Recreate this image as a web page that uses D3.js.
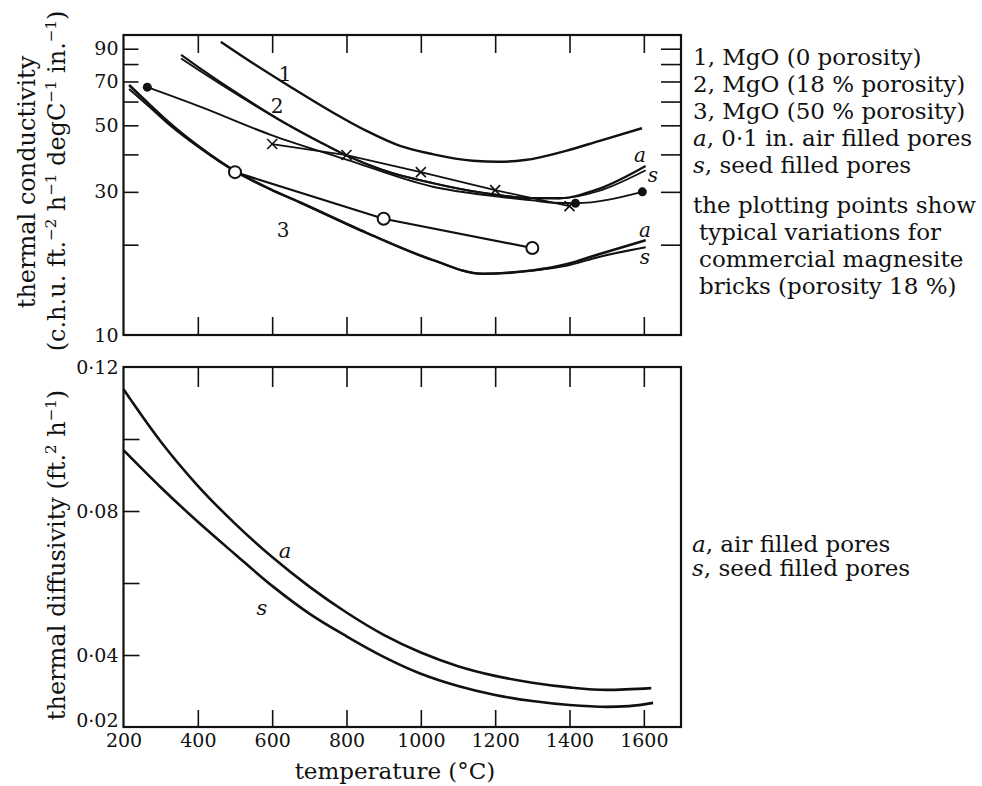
<!DOCTYPE html>
<html>
<head>
<meta charset="utf-8">
<script src="https://cdn.jsdelivr.net/npm/d3@7"></script>
<style>
  body { margin: 0; background: #fff; }
  svg { display: block; font-family: "DejaVu Serif", "Liberation Serif", serif; }
  .tick line { stroke: #111; stroke-width: 1.6; }
</style>
</head>
<body>
<svg id="chart" width="982" height="786"></svg>
<script>
// ---- data ----
// upper panel: thermal conductivity vs temperature
const mgo0Temp = [462, 540, 655, 762, 854, 942, 1031, 1140, 1210, 1280, 1390, 1479, 1595];
const mgo0Cond = [94.9, 81.8, 66.5, 55.3, 47.9, 42.8, 40.1, 38.1, 37.8, 38.3, 41.1, 44.3, 48.9];

const mgo18Temp  = [355, 405, 513, 620, 728, 803, 897, 1031, 1165, 1299, 1372, 1479, 1605];
const mgo18Air   = [85.8, 77.6, 63.1, 52.1, 44.0, 39.5, 35.5, 32.1, 29.8, 28.6, 28.6, 30.7, 36.6];
const mgo18Seed  = [83.5, 76.0, 62.5, 52.1, 44.0, 39.5, 35.5, 32.1, 29.8, 28.6, 28.5, 30.2, 35.4];

const mgo50Temp  = [215, 271, 324, 405, 505, 593, 674, 854, 1031, 1165, 1299, 1391, 1479, 1605];
const mgo50Air   = [68.1, 58.5, 50.9, 42.3, 34.9, 30.7, 27.7, 21.9, 17.8, 16.0, 16.4, 17.2, 18.6, 20.7];
const mgo50Seed  = [66.1, 57.4, 50.1, 42.0, 34.9, 30.7, 27.7, 21.9, 17.8, 16.0, 16.4, 17.0, 18.2, 19.6];

// commercial magnesite bricks
const dotTemp   = [264, 406, 598, 804, 1032, 1200, 1300, 1354, 1416, 1596];
const dotCond   = [67, 57.7, 46.4, 38.3, 31.2, 29.0, 28.1, 27.6, 27.5, 30.0];
const dotMarks  = [0, 8, 9];   // points of the dot series that carry a filled dot
const crossTemp = [600, 800, 1000, 1200, 1400];
const crossCond = [43.3, 39.8, 34.9, 30.4, 26.9];
const ringTemp  = [500, 900, 1300];
const ringCond  = [34.9, 24.4, 19.5];

// lower panel: thermal diffusivity vs temperature
const airTemp  = [200, 300, 400, 500, 600, 700, 800, 900, 1000, 1100, 1200, 1300, 1400, 1500, 1620];
const airDiff  = [0.1138, 0.0993, 0.0870, 0.0765, 0.0672, 0.0590, 0.0518, 0.0456, 0.0407, 0.0369, 0.0342, 0.0323, 0.0310, 0.0303, 0.0308];
const seedTemp = [200, 300, 400, 500, 600, 700, 800, 900, 1000, 1100, 1200, 1300, 1400, 1500, 1560, 1625];
const seedDiff = [0.0969, 0.0866, 0.0770, 0.0680, 0.0592, 0.0515, 0.0452, 0.0395, 0.0348, 0.0314, 0.0289, 0.0272, 0.0261, 0.0256, 0.0258, 0.0267];

const tempTicks = [200, 400, 600, 800, 1000, 1200, 1400, 1600];
const condTicks = [20, 30, 40, 50, 60, 70, 80, 90];
const condLabels = [10, 30, 50, 70, 90];
const diffTicks = [0.04, 0.06, 0.08, 0.10];
const diffLabels = [0.02, 0.04, 0.08, 0.12];

const legendTop = ['1, MgO (0 porosity)', '2, MgO (18 % porosity)', '3, MgO (50 % porosity)'];
const noteLines = ['the plotting points show', 'typical variations for', 'commercial magnesite', 'bricks (porosity 18 %)'];

// ---- layout ----
const svg = d3.select('#chart');
const left = 123.5, right = 681;
const top1 = 35, bot1 = 335, top2 = 367, bot2 = 727;

const x = d3.scaleLinear().domain([200, 1700]).range([left, right]);
const yCond = d3.scaleLog().domain([10, 100]).range([bot1, top1]);
const yDiff = d3.scaleLinear().domain([0.02, 0.12]).range([bot2, top2]);
const diffFmt = d => d3.format('.2f')(d).replace('.', '·');

function zip(a, b) { return a.map((v, i) => [v, b[i]]); }

// inward ticks; labels come from separate zero-length axes
function ticksOnly(axis, tr) {
    const g = svg.append('g').attr('transform', tr).call(axis);
    g.select('.domain').remove();
    g.selectAll('text').remove();
    return g;
}
function labelsOnly(axis, tr) {
    const g = svg.append('g').attr('transform', tr).call(axis);
    g.attr('font-size', 19).attr('font-family', '"DejaVu Serif", serif');
    g.selectAll('text').attr('fill', '#111');
    g.select('.domain').remove();
    g.selectAll('line').remove();
    return g;
}

const innerTicks = tempTicks.filter(t => t > 200);
ticksOnly(d3.axisTop(x).tickValues(innerTicks).tickSize(-18), `translate(0,${top1})`);
ticksOnly(d3.axisBottom(x).tickValues(innerTicks).tickSize(-18), `translate(0,${bot1})`);
ticksOnly(d3.axisLeft(yCond).tickValues(condTicks).tickSize(-15), `translate(${left},0)`);
ticksOnly(d3.axisRight(yCond).tickValues(condTicks).tickSize(-20), `translate(${right},0)`);
labelsOnly(d3.axisLeft(yCond).tickValues(condLabels).tickSize(0).tickPadding(5).tickFormat(d3.format('d')), `translate(${left},0)`);

ticksOnly(d3.axisTop(x).tickValues(innerTicks).tickSize(-20), `translate(0,${top2})`);
ticksOnly(d3.axisBottom(x).tickValues(innerTicks).tickSize(-17), `translate(0,${bot2})`);
ticksOnly(d3.axisLeft(yDiff).tickValues(diffTicks).tickSize(-16), `translate(${left},0)`);
const diffAxis = labelsOnly(d3.axisLeft(yDiff).tickValues(diffLabels).tickSize(0).tickPadding(5).tickFormat(diffFmt), `translate(${left},0)`);
// lowest label sits a little above the corner, clear of the 200
diffAxis.selectAll('.tick').filter(d => d === 0.02).select('text').attr('dy', '-0.05em');
labelsOnly(d3.axisBottom(x).tickValues(tempTicks).tickSize(0).tickPadding(7).tickFormat(d3.format('d')), `translate(0,${bot2})`);

// frames
[[top1, bot1], [top2, bot2]].forEach(([t, b]) => {
    svg.append('rect').attr('x', left).attr('y', t).attr('width', right - left).attr('height', b - t)
        .attr('fill', 'none').attr('stroke', '#111').attr('stroke-width', 2.2);
});

// ---- curves ----
const smooth = ys => d3.line().curve(d3.curveMonotoneX).x(d => x(d[0])).y(d => ys(d[1]));
const straight = ys => d3.line().x(d => x(d[0])).y(d => ys(d[1]));

function path(data, gen, w) {
    svg.append('path').datum(data).attr('d', gen).attr('fill', 'none')
        .attr('stroke', '#111').attr('stroke-width', w).attr('stroke-linejoin', 'round');
}

path(zip(mgo0Temp, mgo0Cond), smooth(yCond), 2.4);
path(zip(mgo18Temp, mgo18Air), smooth(yCond), 2.2);
path(zip(mgo18Temp, mgo18Seed), smooth(yCond), 1.8);
path(zip(mgo50Temp, mgo50Air), smooth(yCond), 2.6);
path(zip(mgo50Temp, mgo50Seed), smooth(yCond), 2.0);
path(zip(dotTemp, dotCond), smooth(yCond), 1.9);
path(zip(crossTemp, crossCond), straight(yCond), 1.8);
path(zip(ringTemp, ringCond), straight(yCond), 2.2);

path(zip(airTemp, airDiff), smooth(yDiff), 2.6);
path(zip(seedTemp, seedDiff), smooth(yDiff), 2.6);

// markers
svg.append('g').selectAll('circle').data(dotMarks.map(i => [dotTemp[i], dotCond[i]])).join('circle')
    .attr('cx', d => x(d[0])).attr('cy', d => yCond(d[1])).attr('r', 4.5).attr('fill', '#111');
svg.append('g').selectAll('circle').data(zip(ringTemp, ringCond)).join('circle')
    .attr('cx', d => x(d[0])).attr('cy', d => yCond(d[1])).attr('r', 6)
    .attr('fill', '#fff').attr('stroke', '#111').attr('stroke-width', 2);
svg.append('g').selectAll('path').data(zip(crossTemp, crossCond)).join('path')
    .attr('d', d => { const cx = x(d[0]), cy = yCond(d[1]), s = 5;
        return `M${cx - s},${cy - s}L${cx + s},${cy + s}M${cx - s},${cy + s}L${cx + s},${cy - s}`; })
    .attr('stroke', '#111').attr('stroke-width', 1.6);

// ---- labels on curves ----
function label(txt, tx, ty, italic, size) {
    svg.append('text').attr('x', tx).attr('y', ty).attr('text-anchor', 'middle').attr('dy', '0.35em')
        .attr('font-size', size || 20).attr('font-style', italic ? 'italic' : 'normal').attr('fill', '#111')
        .text(txt);
}
label('1', 285, 74);
label('2', 277, 106);
label('3', 283, 230);
label('a', 640, 155, true);
label('s', 653, 175, true);
label('a', 645, 230, true);
label('s', 645, 257, true);
label('a', 285, 551, true, 21);
label('s', 262, 608, true, 21);

// ---- axis titles ----
function supText(el, parts) {
    parts.forEach(p => {
        if (p.sup) {
            el.append('tspan').attr('font-size', 15).attr('dy', -9).text(p.sup);
            el.append('tspan').attr('dy', 9).text(p.t || '');
        } else {
            el.append('tspan').text(p.t);
        }
    });
}
function vTitle(cx, cy) {
    return svg.append('text').attr('transform', `translate(${cx},${cy}) rotate(-90)`).attr('text-anchor', 'middle')
        .attr('dy', '0.35em').attr('font-size', 24).attr('fill', '#111');
}
vTitle(27, 182).text('thermal conductivity');
supText(vTitle(57, 181), [{t: '(c.h.u. ft.'}, {sup: '−2', t: ' h'}, {sup: '−1', t: ' degC'}, {sup: '−1', t: ' in.'}, {sup: '−1', t: ')'}]);
supText(vTitle(57, 555), [{t: 'thermal diffusivity (ft.'}, {sup: '2', t: ' h'}, {sup: '−1', t: ')'}]);

svg.append('text').attr('x', 395).attr('y', 779).attr('text-anchor', 'middle')
    .attr('font-size', 23).attr('fill', '#111').text('temperature (°C)');

// ---- legends ----
const lg = svg.append('g').attr('font-size', 23).attr('fill', '#111');
legendTop.forEach((s, i) => lg.append('text').attr('x', 693).attr('y', 65 + i * 27).text(s));
const la = lg.append('text').attr('x', 693).attr('y', 146);
la.append('tspan').attr('font-style', 'italic').text('a');
la.append('tspan').text(', 0·1 in. air filled pores');
const ls = lg.append('text').attr('x', 693).attr('y', 173);
ls.append('tspan').attr('font-style', 'italic').text('s');
ls.append('tspan').text(', seed filled pores');
noteLines.forEach((s, i) => lg.append('text').attr('x', i ? 699 : 693).attr('y', 213 + i * 27).text(s));

const lb = svg.append('g').attr('font-size', 23).attr('fill', '#111');
const lba = lb.append('text').attr('x', 692).attr('y', 552);
lba.append('tspan').attr('font-style', 'italic').text('a');
lba.append('tspan').text(', air filled pores');
const lbs = lb.append('text').attr('x', 692).attr('y', 576);
lbs.append('tspan').attr('font-style', 'italic').text('s');
lbs.append('tspan').text(', seed filled pores');
</script>
</body>
</html>
